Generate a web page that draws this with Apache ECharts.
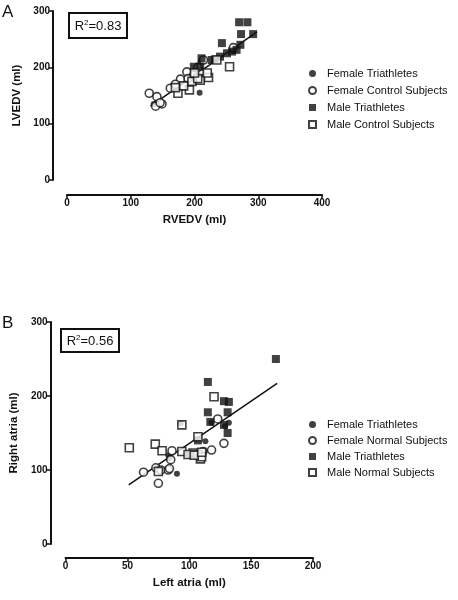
<!DOCTYPE html>
<html><head><meta charset="utf-8">
<script src="https://cdn.jsdelivr.net/npm/echarts@6/dist/echarts.min.js"></script>
<style>html,body{margin:0;padding:0;background:#fff}#c{width:458px;height:600px}</style>
</head><body><div id="c"></div>
<script>
// Panel A: RVEDV (x) vs LVEDV (y)
const femTriA = [[208,155],[136,135],[141,138],[204,177],[261,229],[200,195],[206,184],[144,136],[210,210],[196,181]];
const femCtrlA = [[129,154],[141,148],[149,135],[139,131],[162,163],[178,179],[188,192],[199,186],[209,192],[214,213],[170,170],[190,180],[205,200],[261,235],[146,137]];
const maleTriA = [[283,280],[270,280],[273,259],[292,259],[243,243],[209,201],[211,216],[232,214],[240,219],[251,225],[259,228],[266,231],[272,240],[199,201],[227,213]];
const maleCtrlA = [[255,201],[174,154],[192,160],[183,167],[196,175],[209,177],[222,182],[220,190],[170,164],[235,213],[205,180],[200,190]];
const fitA = [[131,131],[298,263]];
// Panel B: Left atria (x) vs Right atria (y)
const femTriB = [[90,95],[113,139],[132,164],[129,159],[118,164],[83,120],[84,116],[99,121],[74,103],[93,163]];
const femNormB = [[63,97],[75,82],[86,126],[85,114],[118,127],[123,169],[128,136],[73,103],[77,100],[83,100],[84,102],[111,125]];
const maleTriB = [[170,250],[115,219],[115,178],[128,193],[132,192],[131,178],[131,150],[128,161],[117,165],[107,140]];
const maleNormB = [[51.5,130],[72.5,135],[120,199],[94,161],[107,145],[78,126],[94,125],[103,123],[107,121],[109,115],[110,118],[75,98],[99,121],[104,120],[110,124]];
const fitB = [[51,80],[171,217]];

const INK = '#111';
const legendA = ['Female Triathletes','Female Control Subjects','Male Triathletes','Male Control Subjects'];
const legendB = ['Female Triathletes','Female Normal Subjects','Male Triathletes','Male Normal Subjects'];

function axisCommon(){
  return {
    axisLine:{show:true,onZero:false,lineStyle:{color:INK,width:2}},
    axisTick:{show:true,length:4,lineStyle:{color:INK,width:1.5}},
    axisLabel:{color:INK,fontSize:10,fontWeight:'bold',fontFamily:'Liberation Sans, Arial',margin:3},
    splitLine:{show:false},
    nameLocation:'middle',
    nameTextStyle:{color:INK,fontSize:11.5,fontWeight:'bold',fontFamily:'Liberation Sans, Arial'}
  };
}
function sc(name, data, symbol, filled, xi, size){
  return {type:'scatter',name, data, xAxisIndex:xi, yAxisIndex:xi, symbol, symbolSize:size,
    itemStyle: filled ? {color:INK} : {color:'#fff',borderColor:INK,borderWidth:1.6},
    z: 3};
}
function fit(data, xi){
  return {type:'line',data,xAxisIndex:xi,yAxisIndex:xi,symbol:'none',lineStyle:{color:INK,width:1.5},z:2,silent:true};
}
const legendCommon = {orient:'vertical',left:303,itemWidth:7,itemHeight:7,selectedMode:false,
  textStyle:{color:INK,fontSize:11,fontFamily:'Liberation Sans, Arial',lineHeight:13,padding:[0,0,0,6]}};
const chart = echarts.init(document.getElementById('c'));
chart.setOption({
  animation:false,
  backgroundColor:'#fff',
  grid:[{left:67,width:255,top:11,height:169},{left:63,width:250,top:322,height:222}],
  xAxis:[
    Object.assign(axisCommon(),{gridIndex:0,type:'value',min:0,max:400,interval:100,offset:15,name:'RVEDV (ml)',nameGap:19}),
    Object.assign(axisCommon(),{gridIndex:1,type:'value',min:0,max:200,interval:50,offset:14,name:'Left atria (ml)',nameGap:19})
  ],
  yAxis:[
    Object.assign(axisCommon(),{gridIndex:0,type:'value',min:0,max:300,interval:100,offset:14,name:'LVEDV (ml)',nameGap:26}),
    Object.assign(axisCommon(),{gridIndex:1,type:'value',min:0,max:300,interval:100,offset:15,name:'Right atria (ml)',nameGap:26})
  ],
  legend:[
    Object.assign({},legendCommon,{data:legendA,top:62,itemGap:4}),
    Object.assign({},legendCommon,{data:legendB,top:413,itemGap:3})
  ],
  graphic:[
    {type:'text',left:2,top:4,style:{text:'A',fontSize:17,fill:INK,fontFamily:'Liberation Sans, Arial'}},
    {type:'text',left:2,top:315,style:{text:'B',fontSize:17,fill:INK,fontFamily:'Liberation Sans, Arial'}},
    {type:'rect',shape:{x:69,y:13,width:58,height:25},style:{fill:'#fff',stroke:INK,lineWidth:2},z:10},
    {type:'text',x:98,y:26,z:11,style:{text:'R{s|2}=0.83',align:'center',verticalAlign:'middle',fontSize:13,fill:INK,fontFamily:'Liberation Sans, Arial',
      rich:{s:{fontSize:8,verticalAlign:'top',padding:[0,0,7,0],fill:INK}}}},
    {type:'rect',shape:{x:61,y:329,width:58,height:23},style:{fill:'#fff',stroke:INK,lineWidth:2},z:10},
    {type:'text',x:90,y:341,z:11,style:{text:'R{s|2}=0.56',align:'center',verticalAlign:'middle',fontSize:13,fill:INK,fontFamily:'Liberation Sans, Arial',
      rich:{s:{fontSize:8,verticalAlign:'top',padding:[0,0,7,0],fill:INK}}}}
  ],
  series:[
    fit(fitA,0),
    sc('Female Triathletes',femTriA,'circle',true,0,6),
    sc('Female Control Subjects',femCtrlA,'circle',false,0,8),
    sc('Male Triathletes',maleTriA,'rect',true,0,8),
    sc('Male Control Subjects',maleCtrlA,'rect',false,0,8),
    fit(fitB,1),
    sc('Female Triathletes',femTriB,'circle',true,1,6),
    sc('Female Normal Subjects',femNormB,'circle',false,1,8),
    sc('Male Triathletes',maleTriB,'rect',true,1,8),
    sc('Male Normal Subjects',maleNormB,'rect',false,1,8)
  ]
});
</script></body></html>
